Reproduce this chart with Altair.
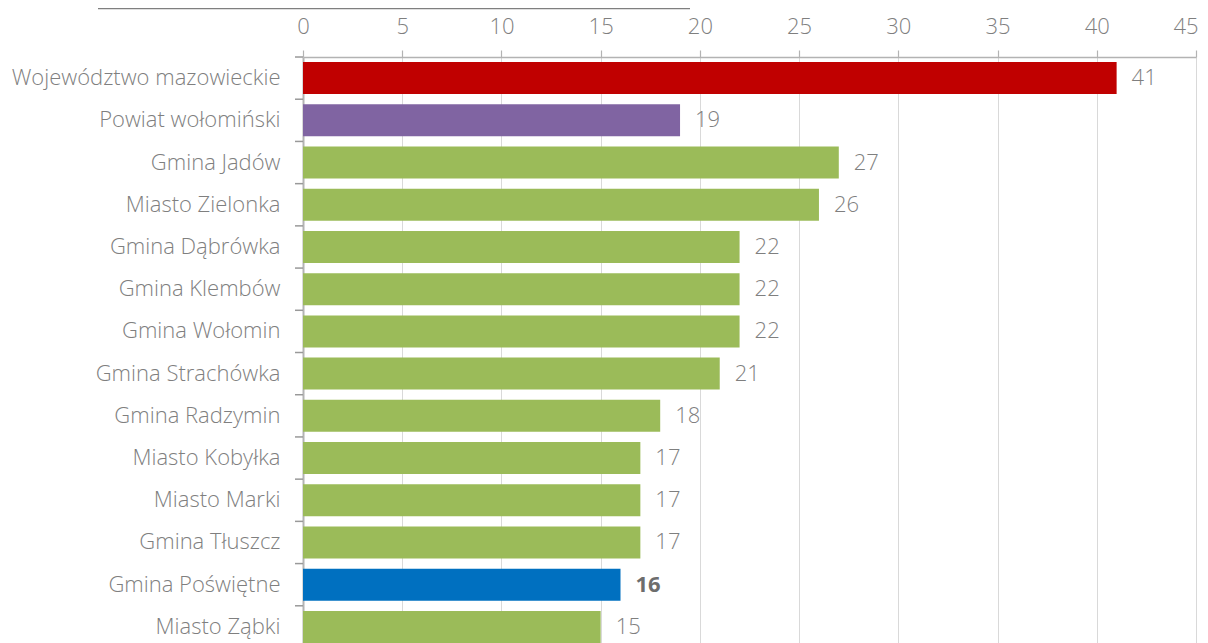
import altair as alt
import pandas as pd

categories = [
    "Województwo mazowieckie",
    "Powiat wołomiński",
    "Gmina Jadów\u00a0",
    "Miasto Zielonka\u00a0",
    "Gmina Dąbrówka\u00a0",
    "Gmina Klembów\u00a0",
    "Gmina Wołomin",
    "Gmina Strachówka\u00a0",
    "Gmina Radzymin\u00a0",
    "Miasto Kobyłka\u00a0",
    "Miasto Marki\u00a0",
    "Gmina Tłuszcz\u00a0",
    "Gmina Poświętne\u00a0",
    "Miasto Ząbki",
]
values = [41, 19, 27, 26, 22, 22, 22, 21, 18, 17, 17, 17, 16, 15]
groups = ["województwo", "powiat", "gmina", "gmina", "gmina", "gmina", "gmina",
          "gmina", "gmina", "gmina", "gmina", "gmina", "wyróżniona", "gmina"]

group_domain = ["województwo", "powiat", "gmina", "wyróżniona"]
group_colors = ["#C00000", "#8064A2", "#9BBB59", "#0070C0"]

x_ticks = [0, 5, 10, 15, 20, 25, 30, 35, 40, 45]

df = pd.DataFrame({"kategoria": categories, "wartosc": values, "grupa": groups})

FONT = "Open Sans"
GRAY = "#7f7f7f"
FS = 22

y_enc = alt.Y("kategoria:N", sort=categories, title=None,
              scale=alt.Scale(paddingInner=0.24, paddingOuter=0.12),
              axis=alt.Axis(ticks=False, domain=True, domainColor="#b3b3b3", domainWidth=2,
                            labelPadding=23, labelFont=FONT, labelFontSize=FS,
                            labelFontWeight=300, labelColor=GRAY, labelLimit=400))
x_enc = alt.X("wartosc:Q", title=None,
              scale=alt.Scale(domain=[0, 45], nice=False, zero=True),
              axis=alt.Axis(orient="top", values=x_ticks, grid=True, gridColor="#d9d9d9",
                            domainColor="#b3b3b3", domainWidth=1.5, tickColor="#b3b3b3",
                            tickSize=7, tickWidth=1.2, labelPadding=12, labelFont=FONT,
                            labelFontSize=FS, labelFontWeight=300, labelColor=GRAY,
                            labelFlush=False,
                            labelAlign=alt.ExprRef(expr="datum.value == 45 ? 'right' : 'center'"),
                            labelOffset=alt.ExprRef(expr="datum.value == 45 ? 2 : 0")))

base = alt.Chart(df)

bars = base.mark_bar(size=32).encode(
    x=x_enc,
    y=y_enc,
    color=alt.Color("grupa:N", scale=alt.Scale(domain=group_domain, range=group_colors),
                    legend=None),
)

labels = base.transform_filter(alt.datum.grupa != "wyróżniona").mark_text(
    align="left", baseline="middle", dx=15, font=FONT, fontSize=FS, fontWeight=300,
    color=GRAY
).encode(x="wartosc:Q", y=alt.Y("kategoria:N", sort=categories), text="wartosc:Q")

labels_bold = base.transform_filter(alt.datum.grupa == "wyróżniona").mark_text(
    align="left", baseline="middle", dx=15, font=FONT, fontSize=FS, fontWeight="bold",
    color="#6d6d6d"
).encode(x="wartosc:Q", y=alt.Y("kategoria:N", sort=categories), text="wartosc:Q")

yticks = base.mark_rule(color="#999999", strokeWidth=1.5, yOffset=-21.1).encode(
    y=alt.Y("kategoria:N", sort=categories),
    x=alt.value(-8), x2=alt.value(0),
)

top_line = base.transform_filter(alt.datum.grupa == "województwo").mark_rule(
    color="#7f7f7f", strokeWidth=1.5
).encode(x=alt.value(-205), x2=alt.value(387), y=alt.value(-48.5))

chart = alt.layer(bars, labels, labels_bold, yticks, top_line).properties(
    width=893, height=591,
    autosize=alt.AutoSizeParams(type="none"),
    padding={"left": 295, "top": 49, "right": 4, "bottom": 0},
).configure_view(stroke=None).configure_axis(labelFont=FONT)

chart.save("out.html", embed_options={"renderer": "svg", "actions": False})
